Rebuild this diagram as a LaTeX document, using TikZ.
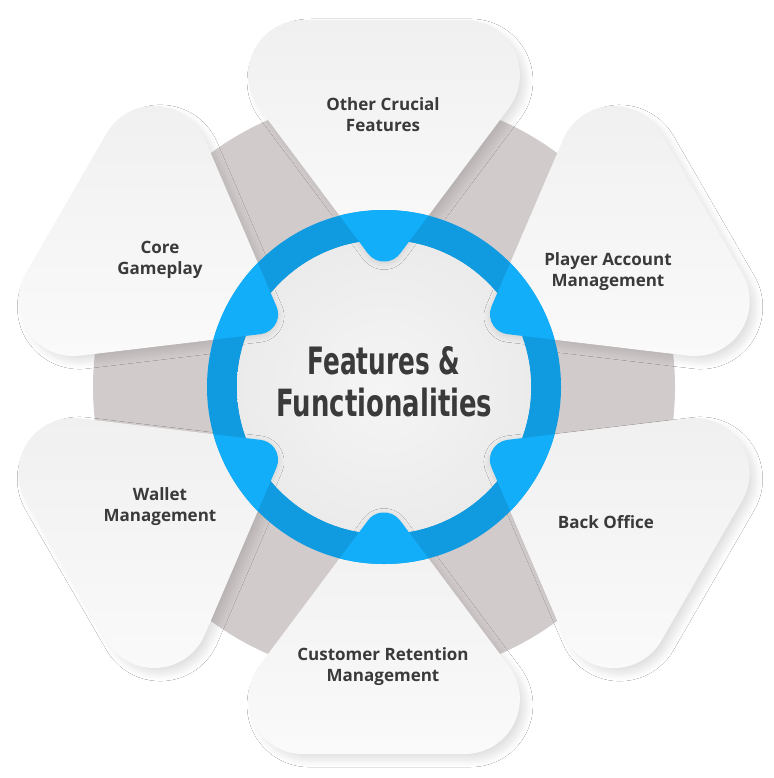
\documentclass[tikz,border=0pt]{standalone}
\usepackage{fontspec}
\setmainfont{Open Sans}
\newfontfamily\headfont{DejaVu Sans}
\usetikzlibrary{shadows.blur}
\definecolor{greyband}{HTML}{D2CBCB}
\definecolor{blueB}{HTML}{13AEF9}
\definecolor{blueD}{HTML}{109BE0}
\definecolor{txt}{HTML}{3A3A3A}
\definecolor{trilight}{HTML}{FAFAFA}
\definecolor{tridark}{HTML}{F0F0F0}
\definecolor{diskc}{HTML}{F5F5F5}
\definecolor{diske}{HTML}{EBEBEB}
\newcommand{\tripath}{(16.0,133.4) -- (125.0,279.1) arc[start angle=-36.8, end angle=90, radius=55] -- (-80.9,367) arc[start angle=90, end angle=216.8, radius=55] -- (-16.0,133.4) arc[start angle=216.8, end angle=323.2, radius=20] -- cycle}
\tikzset{
  lbl/.style={text=txt, font=\fontsize{17pt}{21pt}\selectfont\bfseries, anchor=base, inner sep=0pt},
  trishadow/.style={blur shadow={shadow xshift=0pt, shadow yshift=0pt, shadow blur radius=7pt, shadow blur steps=14, shadow opacity=12}},
  trifill/.style={top color=tridark, bottom color=trilight},
  local/.style={shift={(384,387)}, yscale=-1}
}
\begin{document}
\begin{tikzpicture}[x=1pt,y=-1pt]
\useasboundingbox (0,0) rectangle (773,778);
\fill[white] (0,0) rectangle (773,778);
% grey disk behind
\fill[greyband] (384,387) circle[radius=291];
% shadows of the triangles (offset to lower right)
\foreach \k in {0,...,5}{
  \begin{scope}[shift={(390,393)}, yscale=-1, rotate=60*\k]
    \path[trishadow] \tripath;
  \end{scope}
}
% triangles
\foreach \k in {0,...,5}{
  \begin{scope}[local, rotate=60*\k]
    \path[trifill] \tripath;
  \end{scope}
}
% blue ring (darker where it crosses the grey)
\fill[blueD, even odd rule] (384,387) circle[radius=177] (384,387) circle[radius=147];
% inner disk
\shade[inner color=diskc, outer color=diske] (384,387) circle[radius=147];
% shadows of the bumps inside the disk
\foreach \k in {0,...,5}{
  \begin{scope}[local, rotate=60*\k]
    \clip (0,0) circle[radius=147];
    \path[blur shadow={shadow xshift=0pt, shadow yshift=-2pt, shadow blur radius=6pt, shadow blur steps=10, shadow opacity=12}] \tripath;
  \end{scope}
}
% bright blue where the triangles meet the ring
\foreach \k in {0,...,5}{
  \begin{scope}[local, rotate=60*\k]
    \clip (0,0) circle[radius=177];
    \fill[blueB] \tripath;
  \end{scope}
}
% centre title
\node[anchor=base, inner sep=0pt, text=txt] (t1) at (384,374) {\resizebox{153pt}{28pt}{\headfont\bfseries Features \&}};
\node[anchor=base, inner sep=0pt, text=txt] (t2) at (384.3,416.5) {\resizebox{216pt}{28.5pt}{\headfont\bfseries Functionalities}};
% labels
\node[lbl] (oc1) at (383,111) {Other Crucial};
\node[lbl] (oc2) at (383,132) {Features};
\node[lbl] (cg1) at (160,253) {Core};
\node[lbl] (cg2) at (160,274) {Gameplay};
\node[lbl] (pa1) at (608,265) {Player Account};
\node[lbl] (pa2) at (608,286) {Management};
\node[lbl] (bo1) at (606,528) {Back Office};
\node[lbl] (wm1) at (160,500) {Wallet};
\node[lbl] (wm2) at (160,521) {Management};
\node[lbl] (cr1) at (383,660) {Customer Retention};
\node[lbl] (cr2) at (383,681) {Management};
\end{tikzpicture}
\end{document}
